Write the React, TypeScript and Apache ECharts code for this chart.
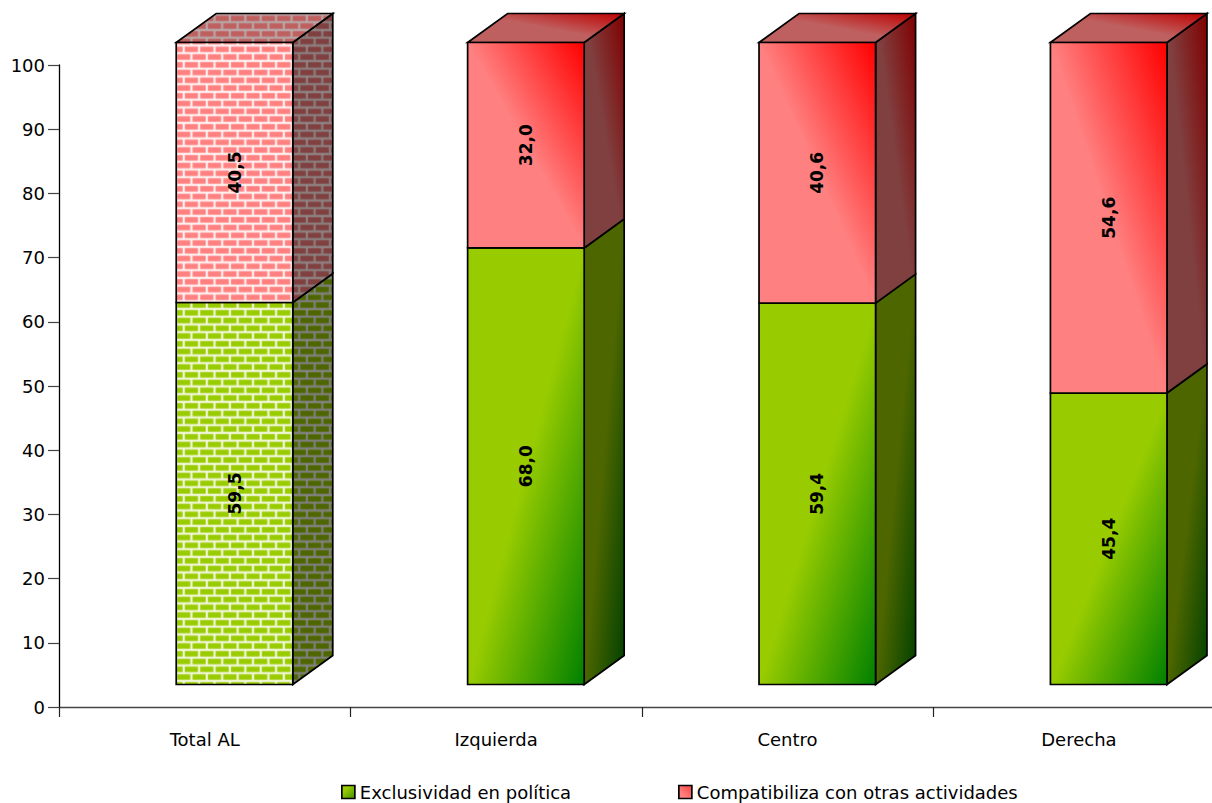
import React, { useEffect, useRef } from "react";
import * as echarts from "echarts";

const categories = ["Total AL", "Izquierda", "Centro", "Derecha"];
const exclusividad = [59.5, 68.0, 59.4, 45.4];
const compatibiliza = [40.5, 32.0, 40.6, 54.6];
const nameA = "Exclusividad en política";
const nameB = "Compatibiliza con otras actividades";
const brickCategories = [0];

const FONT = "'DejaVu Sans', sans-serif";
const DX = 40;
const DY = 29;
const SHIFT_X = 29.8;
const SHIFT_Y = -22.5;
const BAR_RATIO = 0.4;

function brick(brickColor: string, mortar: string) {
  const c = document.createElement("canvas");
  c.width = 64;
  c.height = 64;
  const g = c.getContext("2d") as CanvasRenderingContext2D;
  g.fillStyle = mortar;
  g.fillRect(0, 0, 64, 64);
  (g as any).filter = "blur(1.5px)";
  g.fillStyle = brickColor;
  const bw = 55;
  const bh = 23;
  for (const dy of [-64, 0, 64]) {
    for (const dx of [-64, 0, 64]) {
      g.fillRect(dx, dy, bw, bh);
      g.fillRect(32 + dx, 32 + dy, bw, bh);
    }
  }
  return { image: c, repeat: "repeat", imageWidth: 15.4, imageHeight: 15.5, x: 198 % 15.4, y: 45.7 % 15.5 };
}

function diag(from: string, to: string, down: boolean) {
  if (!down) {
    return { type: "linear", x: 1, y: 0, x2: 0, y2: 1, colorStops: [
      { offset: 0, color: to },
      { offset: 0.5, color: from },
      { offset: 1, color: from },
    ] };
  }
  return { type: "linear", x: 0, y: 0, x2: 1, y2: 1, colorStops: [
    { offset: 0, color: from },
    { offset: 0.5, color: from },
    { offset: 1, color: to },
  ] };
}

function fills(isGreen: boolean, isBrick: boolean) {
  if (isBrick) {
    return isGreen
      ? { front: brick("#99cc00", "#f4f8e0"), side: brick("#4d6600", "#808080"), top: brick("#739900", "#bfbfbf") }
      : { front: brick("#ff8080", "#fff4f4"), side: brick("#804040", "#8c8080"), top: brick("#bf6060", "#b8a8a8") };
  }
  return isGreen
    ? { front: diag("#99cc00", "#008000", true), side: diag("#4d6600", "#004000", true), top: diag("#739900", "#006000", true) }
    : { front: diag("#ff8080", "#ff0000", false), side: diag("#804040", "#800000", false), top: diag("#bf6060", "#bf0000", false) };
}

function makeSeries(name: string, values: number[], bases: number[], isGreen: boolean) {
  return {
    type: "custom",
    name,
    data: values.map((v, i) => [i, v, bases[i]]),
    encode: { x: 0, y: 1 },
    clip: false,
    silent: true,
    renderItem: (_p: any, api: any) => {
      const idx = api.value(0);
      const v = api.value(1);
      const base = api.value(2);
      const p0 = api.coord([idx, base]);
      const p1 = api.coord([idx, base + v]);
      const w = api.size([1, 0])[0] * BAR_RATIO;
      const l = p0[0] + SHIFT_X - w / 2;
      const r = l + w;
      const b = p0[1] + SHIFT_Y;
      const t = p1[1] + SHIFT_Y;
      const f = fills(isGreen, brickCategories.includes(idx));
      const stroke = { stroke: "#000", lineWidth: 1.7, lineJoin: "miter" };
      const children: any[] = [
        { type: "polygon", shape: { points: [[r, b], [r + DX, b - DY], [r + DX, t - DY], [r, t]] }, style: { fill: f.side, ...stroke } },
      ];
      if (!isGreen) {
        children.push({ type: "polygon", shape: { points: [[l, t], [l + DX, t - DY], [r + DX, t - DY], [r, t]] }, style: { fill: f.top, ...stroke } });
      }
      children.push({ type: "polygon", shape: { points: [[l, b], [r, b], [r, t], [l, t]] }, style: { fill: f.front, ...stroke } });
      children.push({
        type: "text",
        x: (l + r) / 2,
        y: (t + b) / 2,
        rotation: Math.PI / 2,
        style: {
          text: v.toFixed(1).replace(".", ","),
          fill: "#000",
          font: `bold 17px ${FONT}`,
          align: "center",
          verticalAlign: "middle",
        },
      });
      return { type: "group", children };
    },
  };
}

export default function App() {
  const ref = useRef<HTMLDivElement>(null);
  useEffect(() => {
    const chart = echarts.init(ref.current as HTMLDivElement, undefined, { renderer: "svg" });
    const legendBase = {
      orient: "horizontal",
      top: 783,
      itemWidth: 13,
      itemHeight: 13,
      icon: "rect",
      selectedMode: false,
      textStyle: { fontFamily: FONT, fontSize: 18, color: "#000", padding: [0, 0, 0, 0] },
      padding: 0,
    };
    chart.setOption({
      animation: false,
      backgroundColor: "#fff",
      grid: { left: 59, top: 65, width: 1165.6, height: 642, containLabel: false, outerBoundsMode: "none" },
      legend: [
        {
          ...legendBase,
          left: 341,
          data: [{ name: nameA, itemStyle: { color: { type: "linear", x: 0, y: 0, x2: 1, y2: 1, colorStops: [{ offset: 0.3, color: "#99cc00" }, { offset: 1, color: "#3f9000" }] }, borderColor: "#000", borderWidth: 1.7 } }],
        },
        {
          ...legendBase,
          left: 678,
          data: [{ name: nameB, itemStyle: { color: { type: "linear", x: 0, y: 1, x2: 1, y2: 0, colorStops: [{ offset: 0.3, color: "#ff8080" }, { offset: 1, color: "#ff4040" }] }, borderColor: "#000", borderWidth: 1.7 } }],
        },
      ],
      xAxis: {
        type: "category",
        data: categories,
        boundaryGap: true,
        axisLine: { onZero: false, lineStyle: { color: "#444", width: 1.3 } },
        axisTick: { show: true, alignWithLabel: false, length: 10, lineStyle: { color: "#222", width: 1.2 } },
        axisLabel: { fontFamily: FONT, fontSize: 18, color: "#000", margin: 23 },
      },
      yAxis: {
        type: "value",
        min: 0,
        max: 100,
        interval: 10,
        splitLine: { show: false },
        axisLine: { show: true, lineStyle: { color: "#000", width: 1.3 } },
        axisTick: { show: true, length: 11, lineStyle: { color: "#444", width: 1.2 } },
        axisLabel: { fontFamily: FONT, fontSize: 18, color: "#000", margin: 14 },
      },
      series: [
        makeSeries(nameA, exclusividad, exclusividad.map(() => 0), true),
        makeSeries(nameB, compatibiliza, exclusividad, false),
      ],
    });
    return () => chart.dispose();
  }, []);
  return <div ref={ref} style={{ position: "fixed", left: 0, top: 0, width: 1212, height: 803 }} />;
}
